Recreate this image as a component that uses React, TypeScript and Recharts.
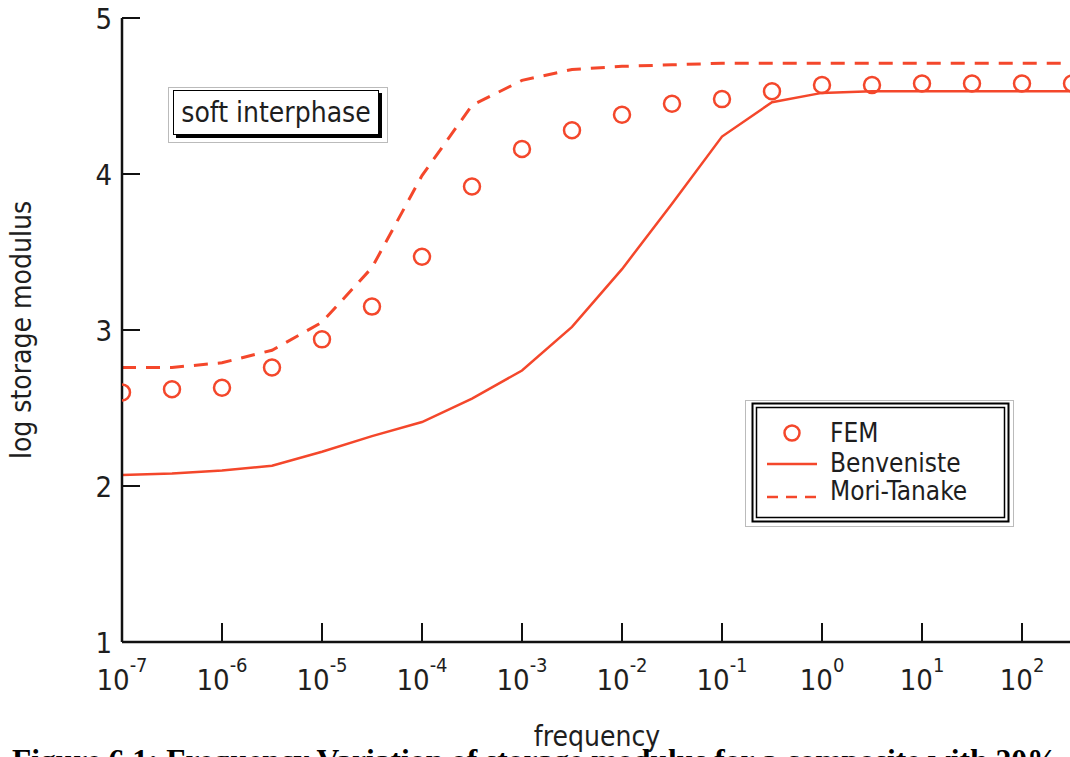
import React from 'react'
import { ComposedChart, Line, XAxis, YAxis } from 'recharts'

// log10(frequency) of each sample
const FREQ_EXP = [-7, -6.5, -6, -5.5, -5, -4.5, -4, -3.5, -3, -2.5, -2, -1.5, -1, -0.5, 0, 0.5, 1, 1.5, 2, 2.5]
const FEM = [2.6, 2.62, 2.63, 2.76, 2.94, 3.15, 3.47, 3.92, 4.16, 4.28, 4.38, 4.45, 4.48, 4.53, 4.57, 4.57, 4.58, 4.58, 4.58, 4.58]
const BENVENISTE = [2.07, 2.08, 2.1, 2.13, 2.22, 2.32, 2.41, 2.56, 2.74, 3.02, 3.39, 3.81, 4.24, 4.46, 4.52, 4.53, 4.53, 4.53, 4.53, 4.53]
const MORI_TANAKE = [2.76, 2.76, 2.79, 2.87, 3.05, 3.4, 3.99, 4.44, 4.6, 4.67, 4.69, 4.7, 4.71, 4.71, 4.71, 4.71, 4.71, 4.71, 4.71, 4.71]

const X_TICK_EXP = [-7, -6, -5, -4, -3, -2, -1, 0, 1, 2]
const Y_TICKS = [1, 2, 3, 4, 5]

const RED = '#f4472b'
const FONT = "'DejaVu Sans Condensed', 'DejaVu Sans', sans-serif"
const TEXT = '#1e1e1e'

const data = FREQ_EXP.map((e, i) => ({
  f: Math.pow(10, e),
  fem: FEM[i],
  ben: BENVENISTE[i],
  mt: MORI_TANAKE[i],
}))

const BottomTick = ({ x, y, payload }: any) => {
  const exp = Math.round(Math.log10(payload.value))
  return (
    <g>
      <line x1={x} y1={y} x2={x} y2={y - 19} stroke="#111" strokeWidth={2} />
      <text x={x} y={y + 48} textAnchor="middle" fontFamily={FONT} fontSize={29} fill={TEXT}>
        <tspan>10</tspan>
        <tspan dy={-18} fontSize={20}>{exp}</tspan>
      </text>
    </g>
  )
}

const LeftTick = ({ x, y, payload }: any) => (
  <g>
    <line x1={x} y1={y} x2={x + 18} y2={y} stroke="#111" strokeWidth={2} />
    <text x={x - 10} y={y + 10.5} textAnchor="end" fontFamily={FONT} fontSize={29} fill={TEXT}>
      {payload.value}
    </text>
  </g>
)

const TopTick = ({ x, y }: any) => (
  <line x1={x} y1={y} x2={x} y2={y + 18} stroke="#111" strokeWidth={2} />
)

const RightTick = ({ x, y }: any) => (
  <line x1={x} y1={y} x2={x - 18} y2={y} stroke="#111" strokeWidth={2} />
)

const xTicks = X_TICK_EXP.map(e => Math.pow(10, e))
const xDomain = [Math.pow(10, FREQ_EXP[0]), Math.pow(10, FREQ_EXP[FREQ_EXP.length - 1])]

export default function App() {
  return (
    <div style={{ position: 'fixed', left: 0, top: 0, width: 1070, height: 757, overflow: 'hidden', background: '#fff' }}>
      <div style={{ position: 'absolute', left: 0, top: 0 }}>
        <ComposedChart width={1100} height={757} data={data} margin={{ top: 18, right: 28, bottom: 0, left: 0 }}>
          <XAxis
            dataKey="f"
            type="number"
            scale="log"
            domain={xDomain}
            allowDataOverflow
            ticks={xTicks}
            interval={0}
            height={115}
            tickSize={0}
            tickMargin={0}
            tickLine={false}
            axisLine={{ stroke: '#111', strokeWidth: 2.5 }}
            tick={<BottomTick />}
            label={{
              content: ({ viewBox }: any) => (
                <text x={viewBox.x + viewBox.width / 2} y={viewBox.y + 104} textAnchor="middle" fontFamily={FONT} fontSize={28} fill={TEXT}>
                  frequency
                </text>
              ),
            }}
          />
          <XAxis
            xAxisId="top"
            dataKey="f"
            type="number"
            scale="log"
            orientation="top"
            domain={xDomain}
            allowDataOverflow
            ticks={xTicks}
            interval={0}
            height={0}
            tickSize={0}
            tickMargin={0}
            tickLine={false}
            axisLine={{ stroke: '#111', strokeWidth: 2.5 }}
            tick={<TopTick />}
          />
          <YAxis
            type="number"
            domain={[1, 5]}
            ticks={Y_TICKS}
            interval={0}
            width={122}
            tickSize={0}
            tickMargin={0}
            tickLine={false}
            axisLine={{ stroke: '#111', strokeWidth: 2.5 }}
            tick={<LeftTick />}
            label={{
              content: ({ viewBox }: any) => {
                const cx = viewBox.x + 21
                const cy = viewBox.y + viewBox.height / 2
                return (
                  <text x={cx} y={cy} transform={`rotate(-90 ${cx} ${cy})`} textAnchor="middle" dominantBaseline="central" fontFamily={FONT} fontSize={28} fill={TEXT}>
                    log storage modulus
                  </text>
                )
              },
            }}
          />
          <YAxis
            yAxisId="right"
            orientation="right"
            type="number"
            domain={[1, 5]}
            ticks={Y_TICKS}
            interval={0}
            width={0}
            tickSize={0}
            tickMargin={0}
            tickLine={false}
            axisLine={{ stroke: '#111', strokeWidth: 2.5 }}
            tick={<RightTick />}
          />
          <Line dataKey="ben" type="linear" stroke={RED} strokeWidth={2.5} dot={false} isAnimationActive={false} />
          <Line dataKey="mt" type="linear" stroke={RED} strokeWidth={3} strokeDasharray="14 10" dot={false} isAnimationActive={false} />
          <Line
            dataKey="fem"
            type="linear"
            stroke="none"
            dot={{ r: 8, stroke: RED, strokeWidth: 2.5, fill: 'none' }}
            activeDot={false}
            isAnimationActive={false}
          />
        </ComposedChart>
      </div>

      {/* annotation */}
      <div style={{ position: 'absolute', left: 168, top: 87, width: 220, height: 56, border: '1px solid #bbb', boxSizing: 'border-box' }} />
      <div
        style={{
          position: 'absolute',
          left: 173,
          top: 90,
          width: 206,
          height: 45,
          border: '1.5px solid #000',
          boxShadow: '3px 3px 0 #000',
          background: '#fff',
          boxSizing: 'border-box',
          display: 'flex',
          alignItems: 'center',
          justifyContent: 'center',
          fontFamily: FONT,
          fontSize: 28,
          color: TEXT,
          whiteSpace: 'nowrap',
        }}
      >
        soft interphase
      </div>

      {/* legend */}
      <svg style={{ position: 'absolute', left: 740, top: 390 }} width={290} height={150}>
        <rect x={5.5} y={10.5} width={268} height={126} fill="#fff" stroke="#bbb" strokeWidth={1} />
        <rect x={12.5} y={13.5} width={256} height={118} fill="none" stroke="#000" strokeWidth={2} />
        <rect x={16.5} y={17.5} width={248} height={110} fill="none" stroke="#000" strokeWidth={1.5} />
        <circle cx={52} cy={43} r={7.5} fill="none" stroke={RED} strokeWidth={2.5} />
        <line x1={27} y1={74} x2={77} y2={74} stroke={RED} strokeWidth={2.5} />
        <line x1={27} y1={107} x2={77} y2={107} stroke={RED} strokeWidth={2.5} strokeDasharray="11 8" />
        <text x={90} y={52} fontFamily={FONT} fontSize={26} fill={TEXT}>FEM</text>
        <text x={90} y={82} fontFamily={FONT} fontSize={26} fill={TEXT}>Benveniste</text>
        <text x={90} y={110} fontFamily={FONT} fontSize={26} fill={TEXT}>Mori-Tanake</text>
      </svg>

      {/* caption, cut off by the frame */}
      <div
        style={{
          position: 'absolute',
          left: 12,
          top: 745,
          fontFamily: "'Liberation Serif', 'Times New Roman', serif",
          fontWeight: 'bold',
          fontSize: 31.5,
          lineHeight: 1,
          whiteSpace: 'nowrap',
          color: '#000',
        }}
      >
        Figure 6.1: Frequency Variation of storage modulus for a composite with 20%
      </div>
    </div>
  )
}
